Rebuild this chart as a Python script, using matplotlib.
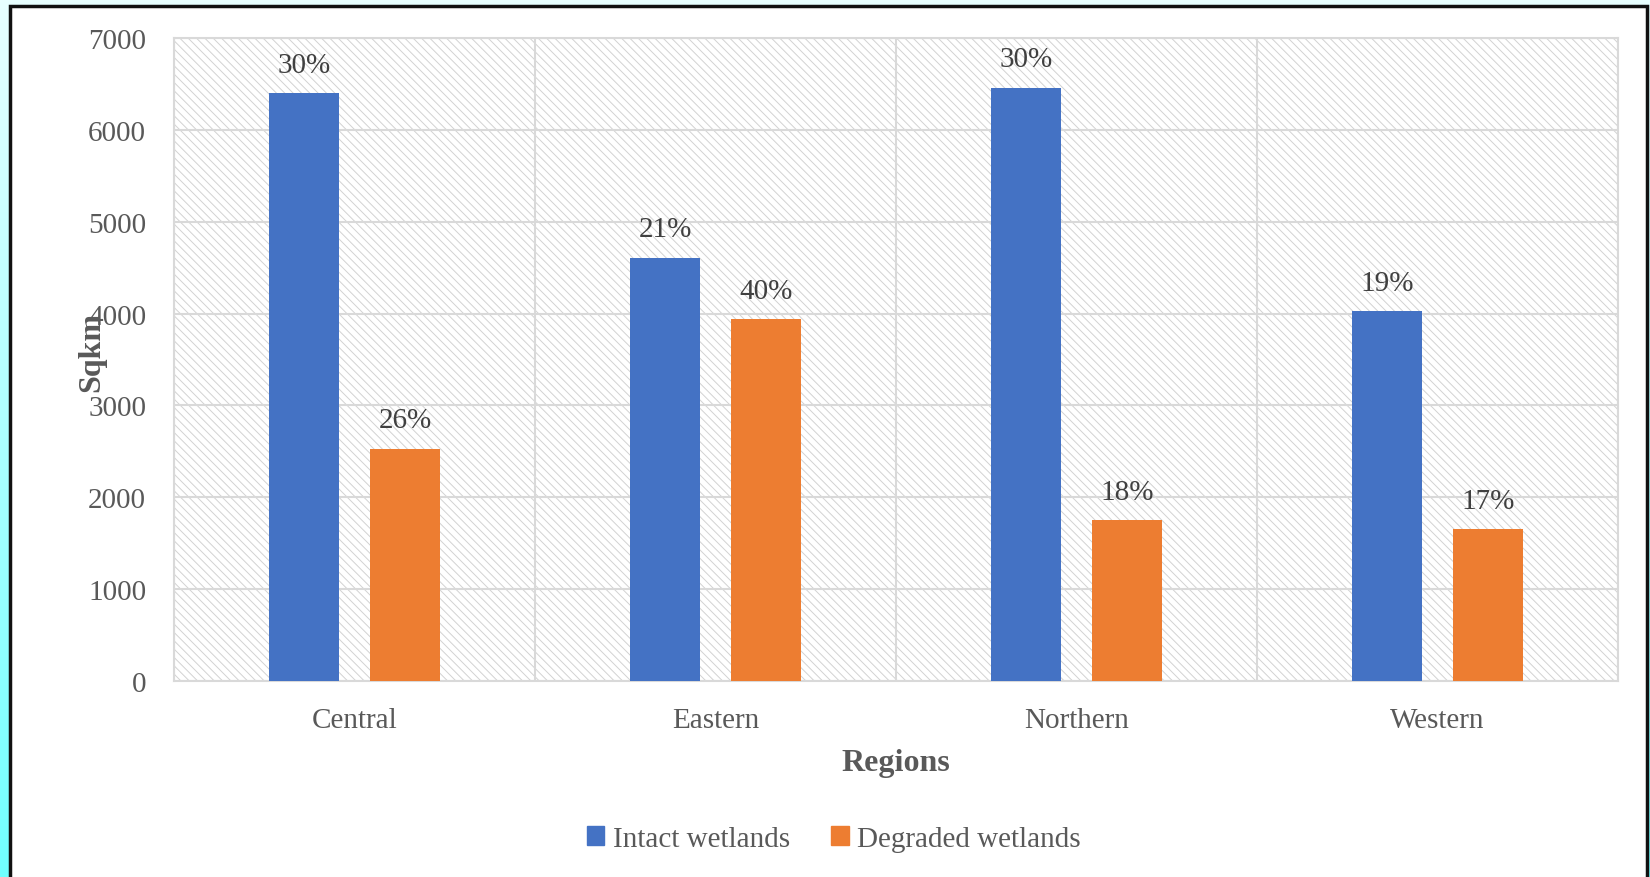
import numpy as np
import matplotlib
matplotlib.use("Agg")
import matplotlib.pyplot as plt
from matplotlib.patches import Rectangle, Patch

# data
regions = ["Central", "Eastern", "Northern", "Western"]
intact = [6400, 4610, 6460, 4030]
degraded = [2530, 3940, 1750, 1650]
intact_pct = ["30%", "21%", "30%", "19%"]
degraded_pct = ["26%", "40%", "18%", "17%"]

plt.rcParams["font.family"] = ["Liberation Serif", "DejaVu Serif"]
plt.rcParams["hatch.color"] = "#d2d2d2"
plt.rcParams["hatch.linewidth"] = 0.7

blue = "#4472c4"
orange = "#ed7d31"
txt = "#595959"

fig = plt.figure(figsize=(16.5, 8.78), dpi=100)

# gradient background + white framed panel
bg = fig.add_axes([0, 0, 1, 1], zorder=-10)
grad = np.linspace(0, 1, 256).reshape(-1, 1)
cmap = matplotlib.colors.LinearSegmentedColormap.from_list("c", ["#e8ffff", "#70ffff"])
bg.imshow(grad, aspect="auto", cmap=cmap, extent=[0, 1, 0, 1], origin="upper")
bg.set_xlim(0, 1)
bg.set_ylim(0, 1)
bg.axis("off")
bg.add_patch(Rectangle((10 / 1650, -0.01), 1637 / 1650, 1 - 7 / 878 + 0.01,
                       facecolor="white", edgecolor="#111111", linewidth=2.5))

ax = fig.add_axes([174 / 1650, 1 - 682 / 878, 1444 / 1650, 643 / 878])
ax.patch.set_facecolor("white")
# hatched plot area
ax.add_patch(Rectangle((0, 0), 1, 1, transform=ax.transAxes, facecolor="white",
                       edgecolor="#d2d2d2", linewidth=0, hatch="\\" * 4, zorder=0))

x = np.arange(len(regions))
w = 0.195
off = 0.14
b1 = ax.bar(x - off, intact, w, color=blue, label="Intact wetlands", zorder=3)
b2 = ax.bar(x + off, degraded, w, color=orange, label="Degraded wetlands", zorder=3)

for bars, labels in [(b1, intact_pct), (b2, degraded_pct)]:
    for r, lab in zip(bars, labels):
        ax.annotate(lab, (r.get_x() + r.get_width() / 2, r.get_height()),
                    xytext=(0, 11), textcoords="offset points",
                    ha="center", va="bottom", fontsize=21, color="#404040")

ax.set_xlim(-0.5, 3.5)
ax.set_ylim(0, 7000)
ax.set_yticks(range(0, 7001, 1000))
ax.set_xticks(x)
ax.set_xticklabels(regions)
ax.set_xticks(np.arange(-0.5, 4, 1), minor=True)
ax.grid(axis="y", color="#d9d9d9", linewidth=1.5, zorder=1)
ax.grid(axis="x", which="minor", color="#d9d9d9", linewidth=1.5, zorder=1)
ax.set_axisbelow(True)
ax.tick_params(axis="both", which="both", length=0, labelsize=21, labelcolor=txt)
ax.tick_params(axis="y", pad=20)
ax.tick_params(axis="x", pad=19)
for s in ax.spines.values():
    s.set_color("#d9d9d9")
    s.set_linewidth(1.5)

fig.text(896 / 1650, 1 - 764 / 878, "Regions", ha="center", va="center",
         fontsize=23, fontweight="bold", color=txt)
fig.text(92 / 1650, 1 - 352 / 878, "Sqkm", ha="center", va="center",
         rotation=90, fontsize=23, fontweight="bold", color=txt)

handles = [Patch(color=blue), Patch(color=orange)]
leg = fig.legend(handles, ["Intact wetlands", "Degraded wetlands"], loc="center",
                 bbox_to_anchor=(834 / 1650, 1 - 840 / 878), ncol=2, frameon=False,
                 fontsize=21, handlelength=0.6, handleheight=0.6, handletextpad=0.3,
                 columnspacing=1.4)
for t in leg.get_texts():
    t.set_color(txt)

fig.savefig("out.png", dpi=100)
